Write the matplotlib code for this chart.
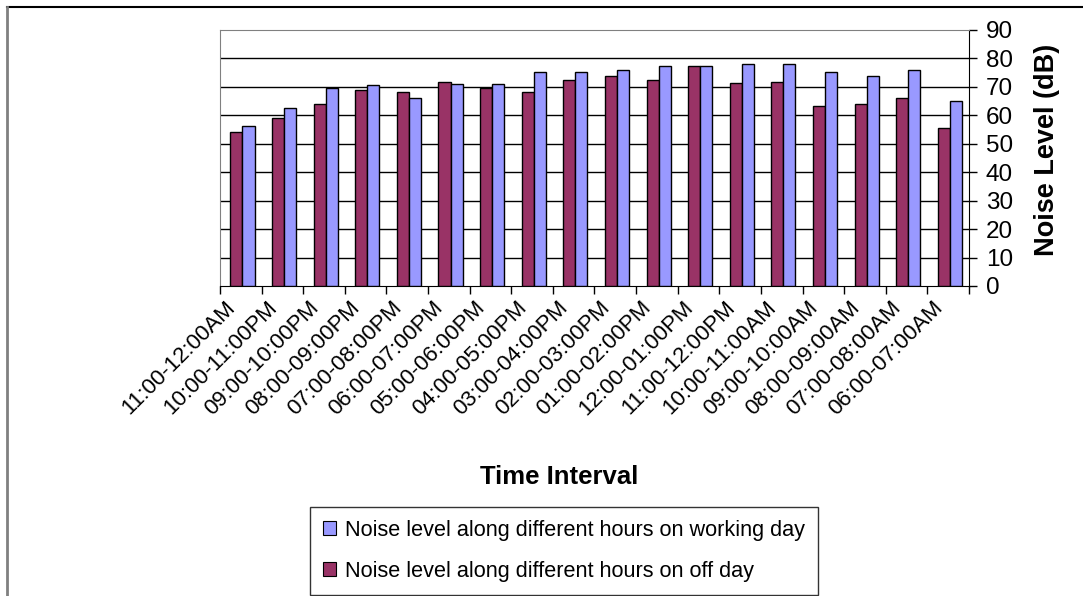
import matplotlib
matplotlib.use("Agg")
import matplotlib.pyplot as plt
from matplotlib.lines import Line2D
from matplotlib.patches import Patch
from matplotlib.transforms import ScaledTranslation
import numpy as np

plt.rcParams['font.family'] = ['Liberation Sans', 'DejaVu Sans']

# categories in display order (left to right)
intervals = [
    "11:00-12:00AM", "10:00-11:00PM", "09:00-10:00PM", "08:00-09:00PM",
    "07:00-08:00PM", "06:00-07:00PM", "05:00-06:00PM", "04:00-05:00PM",
    "03:00-04:00PM", "02:00-03:00PM", "01:00-02:00PM", "12:00-01:00PM",
    "11:00-12:00PM", "10:00-11:00AM", "09:00-10:00AM", "08:00-09:00AM",
    "07:00-08:00AM", "06:00-07:00AM",
]
off_day = [54.1, 59.1, 64.1, 68.9, 68.2, 71.8, 69.6, 68.2, 72.5,
           73.8, 72.5, 77.4, 71.2, 71.8, 63.3, 64.1, 66.1, 55.5]
working_day = [56.2, 62.6, 69.6, 70.5, 66.1, 71.1, 71.1, 75.3, 75.3,
               76.1, 77.4, 77.4, 78.1, 78.1, 75.3, 73.8, 76.1, 64.9]
y_ticks = list(range(0, 100, 10))

off_color = "#993366"
work_color = "#9999FF"

W, H = 1083, 596
fig = plt.figure(figsize=(W / 100, H / 100), dpi=100)
ax = fig.add_axes([220 / W, 1 - 286 / H, (969 - 220) / W, (286 - 30) / H])

x = np.arange(len(intervals)) + 0.5
bw = 0.29
ax.bar(x - bw / 2 + 0.04, off_day, bw, color=off_color, edgecolor="black", linewidth=1, zorder=3)
ax.bar(x + bw / 2 + 0.04, working_day, bw, color=work_color, edgecolor="black", linewidth=1, zorder=3)

ax.set_xlim(0, len(intervals))
ax.set_ylim(0, 90)

# ticks on category boundaries, labels at centers
ax.set_xticks(np.arange(len(intervals) + 1))
ax.set_xticklabels([])
ax.set_xticks(x, minor=True)
ax.set_xticklabels(intervals, minor=True, rotation=45, ha="right",
                   rotation_mode="anchor", fontsize=16)
ax.tick_params(axis="x", which="major", direction="out", length=6, width=1, color="black")
ax.tick_params(axis="x", which="minor", length=0, pad=8)
shift = ScaledTranslation(-16 / 100, 0, fig.dpi_scale_trans)
for lab in ax.get_xticklabels(minor=True):
    lab.set_transform(lab.get_transform() + shift)

ax.yaxis.tick_right()
ax.set_yticks(y_ticks)
ax.tick_params(axis="y", direction="out", length=6, width=1, labelsize=17.5, pad=6)
for v in y_ticks[1:-1]:
    ax.axhline(v, color="black", linewidth=1, zorder=1)

ax.spines["left"].set_color("#808080")
ax.spines["top"].set_color("#808080")
ax.spines["right"].set_color("black")
ax.spines["bottom"].set_color("black")

fig.text(1047 / W, 1 - 150 / H, "Noise Level (dB)", rotation=90, fontsize=19.5,
         fontweight="bold", ha="center", va="center")
fig.text(559 / W, 1 - 477 / H, "Time Interval", fontsize=18.5, fontweight="bold",
         ha="center", va="center")

handles = [Patch(facecolor=work_color, edgecolor="black", linewidth=0.8),
           Patch(facecolor=off_color, edgecolor="black", linewidth=0.8)]
labels = ["Noise level along different hours on working day",
          "Noise level along different hours on off day"]
leg = fig.legend(handles, labels, loc="upper left", bbox_to_anchor=(310 / W, 1 - 507 / H),
                 fontsize=15.6, frameon=True, fancybox=False, handlelength=0.6,
                 handleheight=0.6, handletextpad=0.4, borderpad=0.6, labelspacing=0.9,
                 borderaxespad=0)
leg.get_frame().set_edgecolor("black")
leg.get_frame().set_linewidth(1)

# outer chart frame
fig.add_artist(Line2D([7 / W, 1], [1 - 7 / H, 1 - 7 / H], color="black", linewidth=1.5))
fig.add_artist(Line2D([7 / W, 7 / W], [0, 1 - 7 / H], color="#808080", linewidth=2))

fig.savefig("out.png", dpi=100)
